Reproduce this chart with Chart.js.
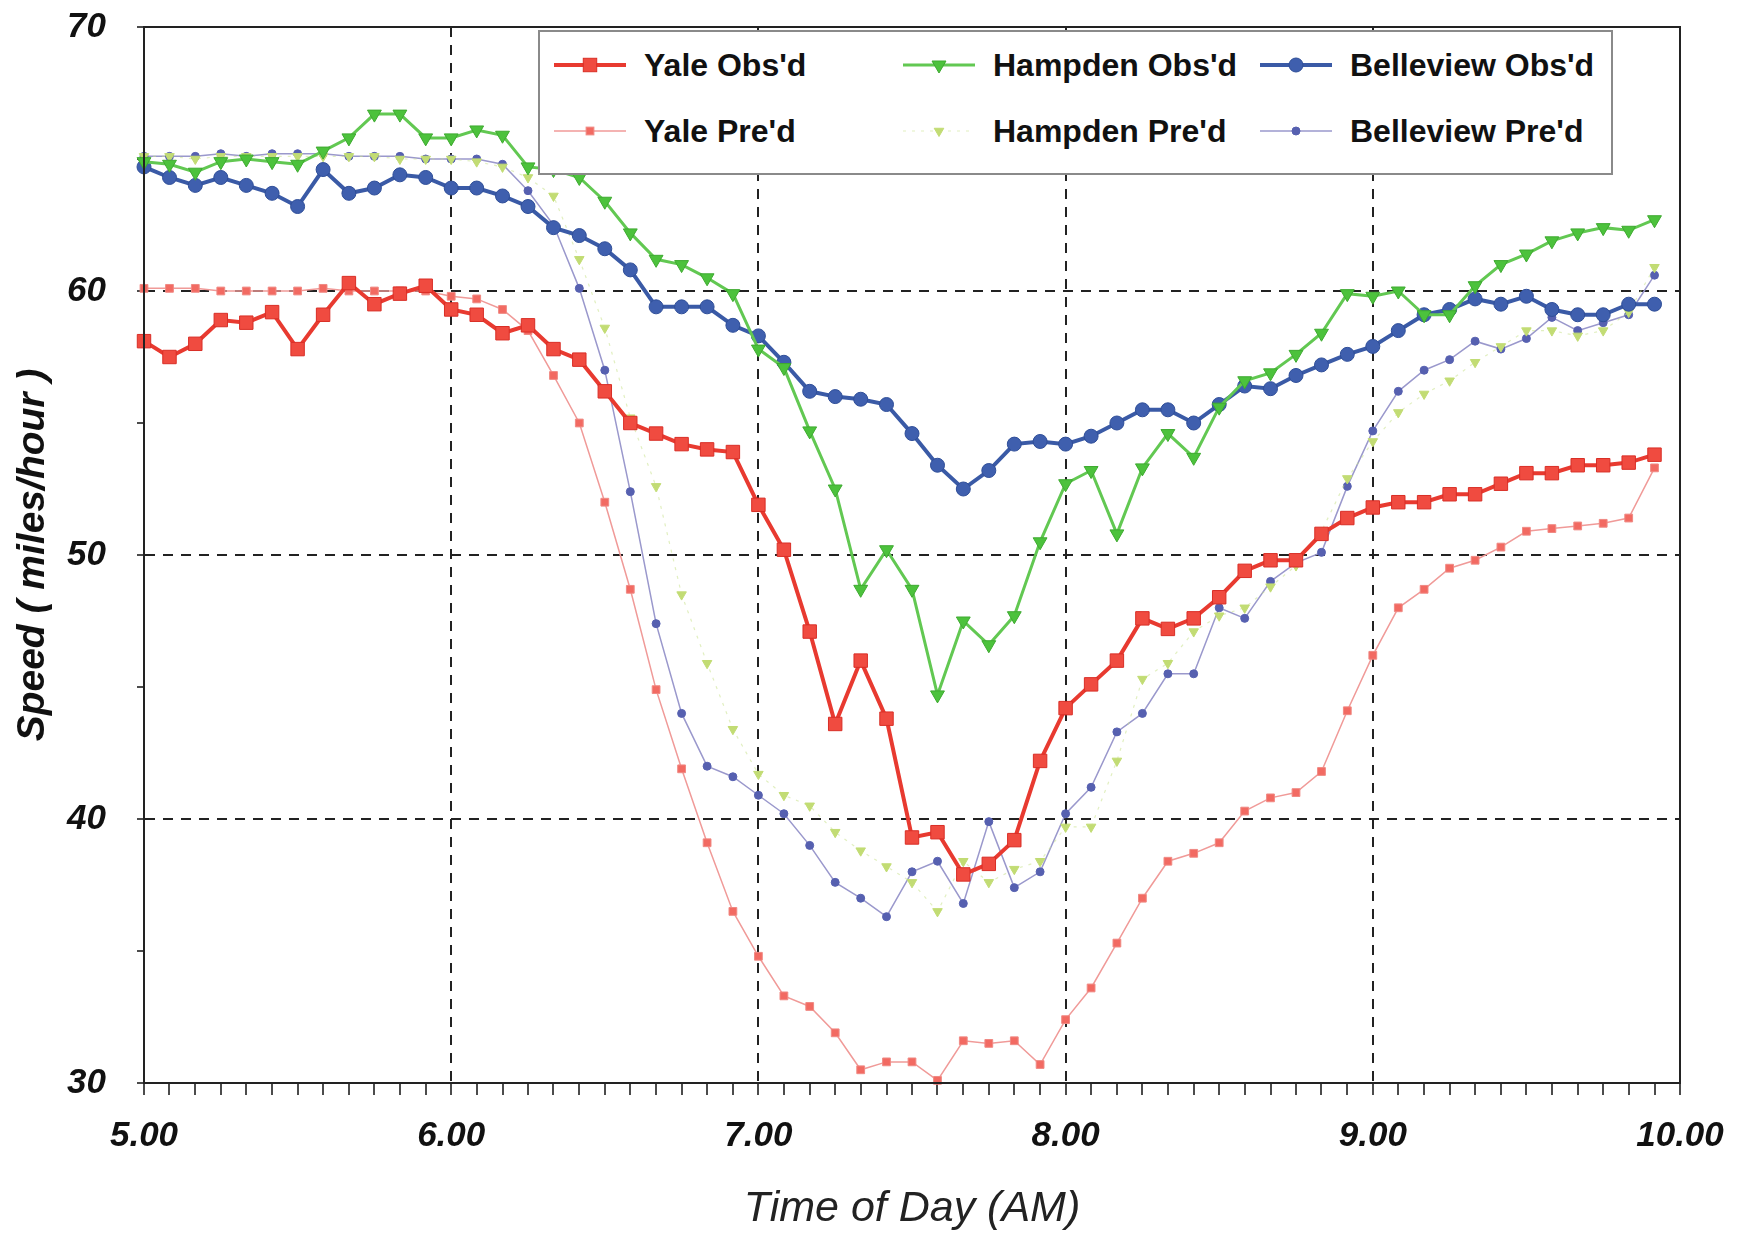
<!DOCTYPE html>
<html>
<head>
<meta charset="utf-8">
<script src="https://cdn.jsdelivr.net/npm/chart.js@4.4.0/dist/chart.umd.min.js"></script>
<style>
  html, body { margin: 0; padding: 0; background: #fff; }
  #wrap { position: relative; width: 1748px; height: 1240px; }
  #legend {
    position: absolute; left: 538px; top: 30px; width: 1075px; height: 145px;
    background: #fff; border: 2px solid #8a8a8a; box-sizing: border-box;
    font-family: "Liberation Sans", Arial, sans-serif; font-weight: bold; font-size: 32px; color: #111;
  }
  .item { position: absolute; display: flex; align-items: center; height: 40px; white-space: nowrap; }
  .item svg { margin-right: 18px; }
</style>
</head>
<body>
<div id="wrap">
  <canvas id="c" width="1748" height="1240"></canvas>
  <div id="legend"></div>
</div>
<script>
// time of day, decimal hours, 5-minute readings
const times = [
  5.000, 5.083, 5.167, 5.250, 5.333, 5.417, 5.500, 5.583, 5.667, 5.750, 5.833, 5.917,
  6.000, 6.083, 6.167, 6.250, 6.333, 6.417, 6.500, 6.583, 6.667, 6.750, 6.833, 6.917,
  7.000, 7.083, 7.167, 7.250, 7.333, 7.417, 7.500, 7.583, 7.667, 7.750, 7.833, 7.917,
  8.000, 8.083, 8.167, 8.250, 8.333, 8.417, 8.500, 8.583, 8.667, 8.750, 8.833, 8.917,
  9.000, 9.083, 9.167, 9.250, 9.333, 9.417, 9.500, 9.583, 9.667, 9.750, 9.833, 9.917
];
const xTicks = [...times, 10.0];
const yTicks = [30, 35, 40, 45, 50, 55, 60, 65, 70];

const yaleObs = [
  58.1, 57.5, 58.0, 58.9, 58.8, 59.2, 57.8, 59.1, 60.3, 59.5, 59.9, 60.2,
  59.3, 59.1, 58.4, 58.7, 57.8, 57.4, 56.2, 55.0, 54.6, 54.2, 54.0, 53.9,
  51.9, 50.2, 47.1, 43.6, 46.0, 43.8, 39.3, 39.5, 37.9, 38.3, 39.2, 42.2,
  44.2, 45.1, 46.0, 47.6, 47.2, 47.6, 48.4, 49.4, 49.8, 49.8, 50.8, 51.4,
  51.8, 52.0, 52.0, 52.3, 52.3, 52.7, 53.1, 53.1, 53.4, 53.4, 53.5, 53.8
];
const yalePre = [
  60.1, 60.1, 60.1, 60.0, 60.0, 60.0, 60.0, 60.1, 60.0, 60.0, 60.0, 60.0,
  59.8, 59.7, 59.3, 58.5, 56.8, 55.0, 52.0, 48.7, 44.9, 41.9, 39.1, 36.5,
  34.8, 33.3, 32.9, 31.9, 30.5, 30.8, 30.8, 30.1, 31.6, 31.5, 31.6, 30.7,
  32.4, 33.6, 35.3, 37.0, 38.4, 38.7, 39.1, 40.3, 40.8, 41.0, 41.8, 44.1,
  46.2, 48.0, 48.7, 49.5, 49.8, 50.3, 50.9, 51.0, 51.1, 51.2, 51.4, 53.3
];
const hampdenObs = [
  64.9, 64.8, 64.5, 64.9, 65.0, 64.9, 64.8, 65.3, 65.8, 66.7, 66.7, 65.8,
  65.8, 66.1, 65.9, 64.7, 64.6, 64.3, 63.4, 62.2, 61.2, 61.0, 60.5, 59.9,
  57.8, 57.1, 54.7, 52.5, 48.7, 50.2, 48.7, 44.7, 47.5, 46.6, 47.7, 50.5,
  52.7, 53.2, 50.8, 53.3, 54.6, 53.7, 55.6, 56.6, 56.9, 57.6, 58.4, 59.9,
  59.8, 60.0, 59.1, 59.1, 60.2, 61.0, 61.4, 61.9, 62.2, 62.4, 62.3, 62.7
];
const hampdenPre = [
  65.1, 65.1, 65.0, 65.1, 65.1, 65.1, 65.1, 65.1, 65.1, 65.1, 65.0, 65.0,
  65.0, 64.9, 64.7, 64.3, 63.6, 61.2, 58.6, 55.2, 52.6, 48.5, 45.9, 43.4,
  41.7, 40.9, 40.5, 39.5, 38.8, 38.2, 37.6, 36.5, 38.4, 37.6, 38.1, 38.4,
  39.7, 39.7, 42.2, 45.3, 45.9, 47.1, 47.7, 48.0, 48.8, 49.6, 50.9, 52.9,
  54.3, 55.4, 56.1, 56.6, 57.3, 57.9, 58.5, 58.5, 58.3, 58.5, 59.2, 60.9
];
const bellObs = [
  64.7, 64.3, 64.0, 64.3, 64.0, 63.7, 63.2, 64.6, 63.7, 63.9, 64.4, 64.3,
  63.9, 63.9, 63.6, 63.2, 62.4, 62.1, 61.6, 60.8, 59.4, 59.4, 59.4, 58.7,
  58.3, 57.3, 56.2, 56.0, 55.9, 55.7, 54.6, 53.4, 52.5, 53.2, 54.2, 54.3,
  54.2, 54.5, 55.0, 55.5, 55.5, 55.0, 55.7, 56.4, 56.3, 56.8, 57.2, 57.6,
  57.9, 58.5, 59.1, 59.3, 59.7, 59.5, 59.8, 59.3, 59.1, 59.1, 59.5, 59.5
];
const bellPre = [
  65.1, 65.1, 65.1, 65.2, 65.1, 65.2, 65.2, 65.2, 65.1, 65.1, 65.1, 65.0,
  65.0, 65.0, 64.8, 63.8, 62.5, 60.1, 57.0, 52.4, 47.4, 44.0, 42.0, 41.6,
  40.9, 40.2, 39.0, 37.6, 37.0, 36.3, 38.0, 38.4, 36.8, 39.9, 37.4, 38.0,
  40.2, 41.2, 43.3, 44.0, 45.5, 45.5, 48.0, 47.6, 49.0, 49.7, 50.1, 52.6,
  54.7, 56.2, 57.0, 57.4, 58.1, 57.8, 58.2, 59.0, 58.5, 58.8, 59.1, 60.6
];

const FONT = '"Liberation Sans", Arial, sans-serif';

const series = [
  { label: "Yale Obs'd", values: yaleObs, line: '#e83a30', width: 4, point: 'rect', r: 9.5,
    fill: '#f04b40', edge: '#d92e26', col: 0, row: 0 },
  { label: "Hampden Obs'd", values: hampdenObs, line: '#62c852', width: 3, point: 'triangle', r: 8, rot: 180,
    fill: '#4cc23c', edge: '#3eaa30', col: 1, row: 0 },
  { label: "Belleview Obs'd", values: bellObs, line: '#3a5aa6', width: 4, point: 'circle', r: 7,
    fill: '#3f5fae', edge: '#2f4e98', col: 2, row: 0 },
  { label: "Yale Pre'd", values: yalePre, line: '#f09a98', width: 1.5, point: 'rect', r: 5.5,
    fill: '#f26a62', edge: '#f08a84', col: 0, row: 1 },
  { label: "Hampden Pre'd", values: hampdenPre, line: 'rgba(200,225,140,0.55)', width: 1.2, dash: [3, 6],
    point: 'triangle', r: 5.5, rot: 180, fill: '#c2dc74', edge: '#c2dc74', col: 1, row: 1 },
  { label: "Belleview Pre'd", values: bellPre, line: '#9a98cc', width: 1.5, point: 'circle', r: 4,
    fill: '#5660b0', edge: '#5660b0', col: 2, row: 1 }
];

const isWhole = v => Math.abs(v - Math.round(v)) < 1e-6;

// box round the plot area
const frame = {
  id: 'frame',
  afterDatasetsDraw(chart) {
    const { ctx, chartArea: a } = chart;
    ctx.save();
    ctx.strokeStyle = '#222';
    ctx.lineWidth = 2;
    ctx.strokeRect(a.left, a.top, a.right - a.left, a.bottom - a.top);
    ctx.restore();
  }
};

new Chart(document.getElementById('c'), {
  type: 'line',
  data: {
    datasets: series.map(s => ({
      label: s.label,
      data: times.map((t, i) => ({ x: t, y: s.values[i] })),
      borderColor: s.line,
      borderWidth: s.width,
      borderDash: s.dash || [],
      pointStyle: s.point,
      pointRadius: s.r,
      pointRotation: s.rot || 0,
      pointBackgroundColor: s.fill,
      pointBorderColor: s.edge,
      pointBorderWidth: 1,
      tension: 0,
      fill: false,
      clip: false
    }))
  },
  options: {
    responsive: false,
    animation: false,
    devicePixelRatio: 1,
    layout: { padding: { left: 0, top: 27, right: 68, bottom: 0 } },
    plugins: { legend: { display: false }, tooltip: { enabled: false } },
    scales: {
      x: {
        type: 'linear', min: 5, max: 10,
        afterBuildTicks: ax => { ax.ticks = xTicks.map(v => ({ value: v })); },
        afterFit: ax => { ax.height = 157; ax.paddingLeft = 0; ax.paddingRight = 0; },
        ticks: {
          autoSkip: false, maxRotation: 0, padding: 20, color: '#111',
          font: { family: FONT, size: 35, weight: 'bold', style: 'italic' },
          callback: v => isWhole(v) ? Number(v).toFixed(2) : ''
        },
        grid: {
          color: c => (c.tick && isWhole(c.tick.value)) ? '#222' : 'rgba(0,0,0,0)',
          lineWidth: 2, tickColor: '#111', tickLength: 12, tickWidth: 1.5
        },
        border: { display: true, color: '#111', width: 2, dash: [10, 8] },
        title: {
          display: true, text: 'Time of Day (AM)', color: '#222',
          font: { family: FONT, size: 43, style: 'italic' },
          padding: { top: 0, bottom: 5 }
        }
      },
      y: {
        min: 30, max: 70,
        afterBuildTicks: ax => { ax.ticks = yTicks.map(v => ({ value: v })); },
        afterFit: ax => { ax.width = 144; ax.paddingTop = 0; ax.paddingBottom = 0; },
        ticks: {
          padding: 31, color: '#111',
          font: { family: FONT, size: 35, weight: 'bold', style: 'italic' },
          callback: v => v % 10 === 0 ? String(v) : ''
        },
        grid: {
          color: c => (c.tick && c.tick.value % 10 === 0) ? '#222' : 'rgba(0,0,0,0)',
          lineWidth: 2, tickColor: '#111', tickLength: 7, tickWidth: 1.5
        },
        border: { display: true, color: '#111', width: 2, dash: [10, 8] },
        title: {
          display: true, text: 'Speed ( miles/hour )', color: '#111',
          font: { family: FONT, size: 39, weight: 'bold', style: 'italic' },
          padding: { top: 10, bottom: 0 }
        }
      }
    }
  },
  plugins: [frame]
});

// legend box, three columns by two rows
function sampleSvg(s) {
  const w = 72, h = 30, cx = 36, cy = 15;
  let m = '';
  if (s.point === 'rect') {
    const a = s.r * Math.SQRT1_2;
    m = `<rect x="${cx - a}" y="${cy - a}" width="${2 * a}" height="${2 * a}" fill="${s.fill}" stroke="${s.edge}"/>`;
  } else if (s.point === 'circle') {
    m = `<circle cx="${cx}" cy="${cy}" r="${s.r}" fill="${s.fill}" stroke="${s.edge}"/>`;
  } else {
    const r = s.r;
    m = `<polygon points="${cx - r * 0.87},${cy - r / 2} ${cx + r * 0.87},${cy - r / 2} ${cx},${cy + r}" fill="${s.fill}" stroke="${s.edge}"/>`;
  }
  const dash = (s.dash || []).join(' ');
  return `<svg width="${w}" height="${h}"><line x1="0" y1="${cy}" x2="${w}" y2="${cy}" stroke="${s.line}" stroke-width="${s.width}"${dash ? ` stroke-dasharray="${dash}"` : ''}/>${m}</svg>`;
}

const legendEl = document.getElementById('legend');
const colLeft = [14, 363, 720];
const rowMid = [33, 99];
series.forEach(s => {
  const d = document.createElement('div');
  d.className = 'item';
  d.style.left = colLeft[s.col] + 'px';
  d.style.top = (rowMid[s.row] - 20) + 'px';
  d.innerHTML = sampleSvg(s) + '<span></span>';
  d.querySelector('span').textContent = s.label;
  legendEl.appendChild(d);
});
</script>
</body>
</html>
